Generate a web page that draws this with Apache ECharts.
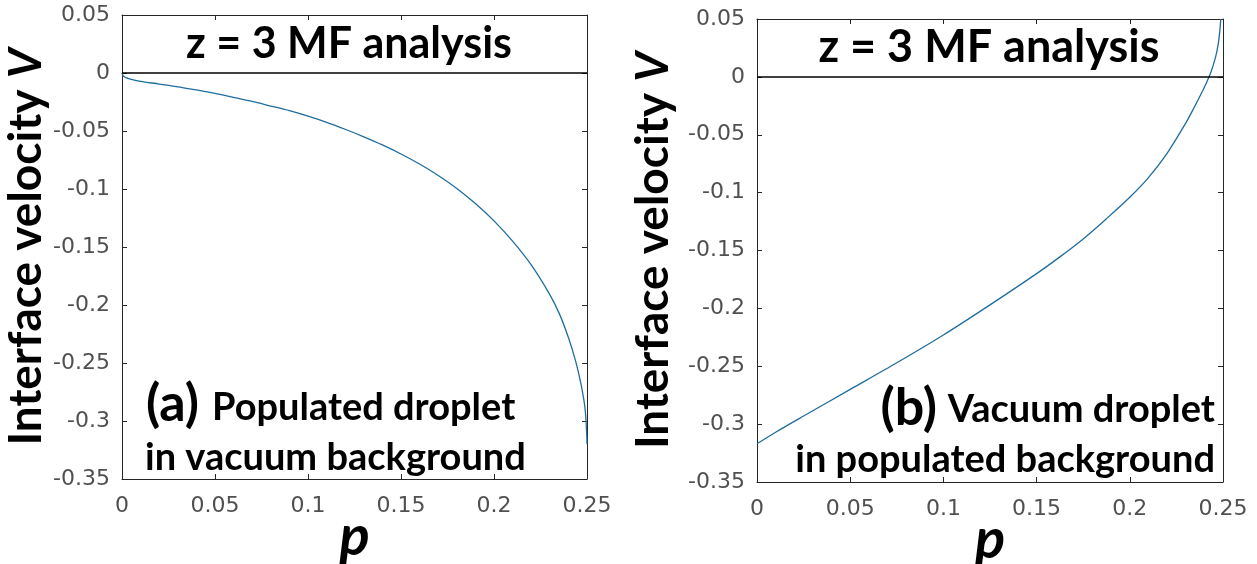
<!DOCTYPE html>
<html>
<head>
<meta charset="utf-8">
<script src="https://cdn.jsdelivr.net/npm/echarts@6/dist/echarts.min.js"></script>
<style>
  html, body { margin: 0; padding: 0; background: #fff; }
  #chart { width: 1257px; height: 564px; }
</style>
</head>
<body>
<div id="chart"></div>
<script>
// Panel (a): populated droplet in vacuum background
const pA = [0, 0.001, 0.005, 0.01, 0.02, 0.03, 0.04, 0.05, 0.06, 0.07, 0.08, 0.09, 0.1, 0.11, 0.12,
  0.13, 0.14, 0.15, 0.16, 0.17, 0.18, 0.19, 0.2, 0.21, 0.22, 0.23, 0.235, 0.24, 0.244, 0.247, 0.249, 0.2498, 0.25];
const vA = [0, -0.003, -0.0055, -0.0072, -0.0095, -0.012, -0.0145, -0.0175, -0.021, -0.0245, -0.0285, -0.0325, -0.0372, -0.0425, -0.0485,
  -0.055, -0.062, -0.0698, -0.0785, -0.0883, -0.0995, -0.1125, -0.1275, -0.145, -0.1655, -0.191, -0.207, -0.228, -0.249, -0.27, -0.29, -0.31, -0.32];

// Panel (b): vacuum droplet in populated background
const pB = [0, 0.01, 0.025, 0.05, 0.075, 0.1, 0.125, 0.15, 0.1625, 0.175, 0.1875, 0.2, 0.21, 0.22, 0.23, 0.235, 0.24, 0.2435, 0.246, 0.2475, 0.2483, 0.2488];
const vB = [-0.317, -0.307, -0.293, -0.270, -0.247, -0.223, -0.197, -0.170, -0.1555, -0.140, -0.1225, -0.104, -0.087, -0.066, -0.040, -0.025, -0.009, 0.004, 0.017, 0.029, 0.040, 0.05];

// Axis ranges and tick step
const xRange = [0, 0.25], xStep = 0.05;
const yRange = [-0.35, 0.05], yStep = 0.05;

// Text
const panelTitle = 'z = 3 MF analysis';
const yName = 'Interface velocity ';
const yNameVar = 'V';
const xName = 'p';
const tagA = '(a)', lineA1 = 'Populated droplet', lineA2 = 'in vacuum background';
const tagB = '(b)', lineB1 = 'Vacuum droplet', lineB2 = 'in populated background';

const FONT = 'Lato, "Open Sans", sans-serif';
const TICK_FONT = '"DejaVu Sans", sans-serif';
const frame = '#262626';
const curveColor = '#1f6d9e';

const fmt = v => String(+v.toFixed(2));
const pairs = (xs, ys) => xs.map((x, i) => [x, ys[i]]);

function axesFor(gi, nameGapY) {
  const common = {
    gridIndex: gi,
    axisLine: { show: true, onZero: false, lineStyle: { color: frame, width: 1 } },
    axisTick: { show: true, inside: true, length: 5, lineStyle: { color: frame, width: 1 } },
    splitLine: { show: false }
  };
  const xs = [
    Object.assign({}, common, {
      type: 'value', min: xRange[0], max: xRange[1], interval: xStep, position: 'bottom',
      axisLabel: { formatter: fmt, margin: 16, fontSize: 22, color: '#505050', fontFamily: TICK_FONT },
      name: xName, nameLocation: 'middle', nameGap: 30, nameMoveOverlap: false,
      nameTextStyle: { fontFamily: FONT, fontWeight: 'bold', fontStyle: 'italic', fontSize: 56, color: '#000' }
    }),
    Object.assign({}, common, {
      type: 'value', min: xRange[0], max: xRange[1], interval: xStep, position: 'top',
      axisLabel: { show: false }
    })
  ];
  const ys = [
    Object.assign({}, common, {
      type: 'value', min: yRange[0], max: yRange[1], interval: yStep, position: 'left',
      axisLabel: { formatter: fmt, margin: 12, fontSize: 22, color: '#505050', fontFamily: TICK_FONT },
      name: '{n|' + yName + '}{v|' + yNameVar + '}', nameLocation: 'middle', nameGap: nameGapY,
      nameTextStyle: {
        rich: {
          n: { fontFamily: FONT, fontWeight: 'bold', fontSize: 46, color: '#000' },
          v: { fontFamily: FONT, fontWeight: 'bold', fontStyle: 'italic', fontSize: 46, color: '#000' }
        }
      }
    }),
    Object.assign({}, common, {
      type: 'value', min: yRange[0], max: yRange[1], interval: yStep, position: 'right',
      axisLabel: { show: false }
    })
  ];
  return { xs, ys };
}

const a0 = axesFor(0, 70);
const a1 = axesFor(1, 81);

function curve(xi, yi, data) {
  return {
    type: 'line', xAxisIndex: xi, yAxisIndex: yi, data,
    showSymbol: false, smooth: 0.3,
    lineStyle: { color: curveColor, width: 1.3 },
    markLine: {
      silent: true, symbol: 'none', label: { show: false },
      lineStyle: { color: '#000', width: 1.5, type: 'solid' },
      data: [{ yAxis: 0 }]
    }
  };
}

function txt(x, y, text, size, align, extra) {
  return {
    type: 'text', x, y, z: 100,
    style: Object.assign({
      text, fill: '#000', font: 'bold ' + size + 'px ' + FONT,
      textAlign: align, textVerticalAlign: 'middle'
    }, extra || {})
  };
}

const chart = echarts.init(document.getElementById('chart'), null, { renderer: 'canvas' });
chart.setOption({
  animation: false,
  backgroundColor: '#fff',
  grid: [
    { left: 122, top: 15, width: 465, height: 464, outerBoundsMode: 'none', containLabel: false },
    { left: 757, top: 19, width: 466, height: 463, outerBoundsMode: 'none', containLabel: false }
  ],
  xAxis: [a0.xs[0], a0.xs[1], a1.xs[0], a1.xs[1]],
  yAxis: [a0.ys[0], a0.ys[1], a1.ys[0], a1.ys[1]],
  series: [
    curve(0, 0, pairs(pA, vA)),
    curve(2, 2, pairs(pB, vB))
  ],
  graphic: [
    txt(349, 44, panelTitle, 43, 'center'),
    txt(989, 47, panelTitle, 45, 'center'),
    txt(146, 404, tagA, 52, 'left'),
    txt(212, 408, lineA1, 38, 'left'),
    txt(145, 458, lineA2, 38, 'left'),
    txt(937, 408, tagB, 52, 'right'),
    txt(1215, 410, lineB1, 38, 'right'),
    txt(1215, 460, lineB2, 38, 'right')
  ]
});
</script>
</body>
</html>
